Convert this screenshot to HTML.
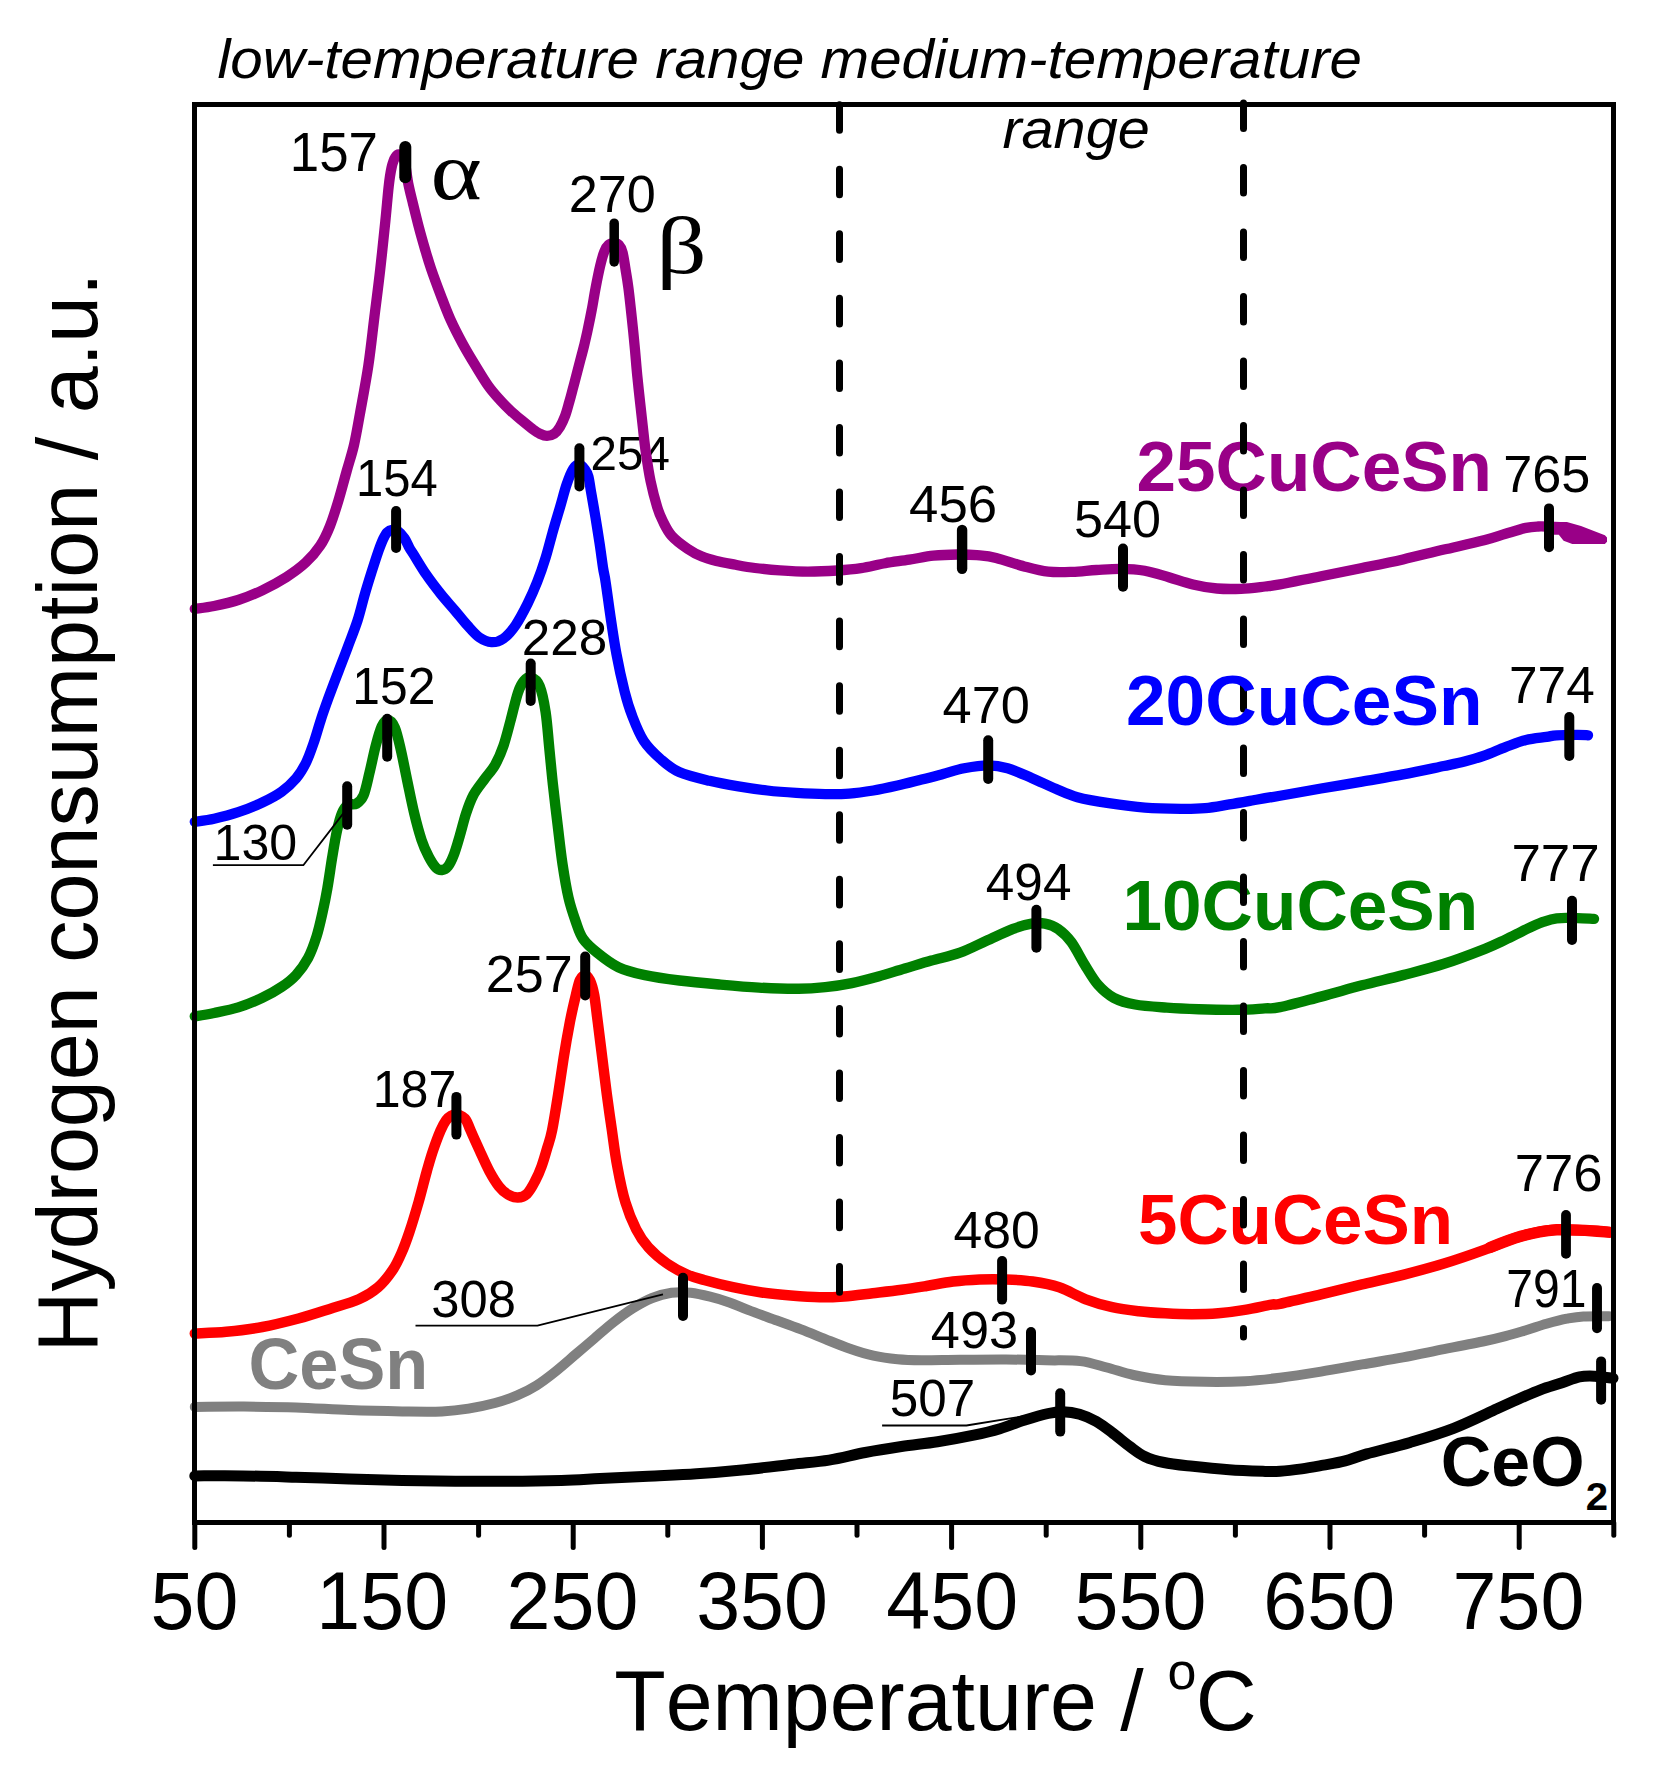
<!DOCTYPE html>
<html><head><meta charset="utf-8"><title>H2-TPR profiles</title>
<style>html,body{margin:0;padding:0;background:#fff}svg{display:block}</style></head>
<body>
<svg width="1659" height="1776" viewBox="0 0 1659 1776" font-family="'Liberation Sans', Arial, sans-serif" fill="#000" style="font-kerning:none">
<rect width="1659" height="1776" fill="#fff"/>
<text x="590.56" y="469.80" font-size="48.9" textLength="79.30" lengthAdjust="spacingAndGlyphs">254</text>
<g fill="none" stroke-linecap="round" stroke-linejoin="round">
<path d="M194.8 1475.9C202.9 1475.9 226.2 1475.7 243.1 1475.9C260.0 1476.1 278.4 1476.7 296.1 1477.2C313.8 1477.7 331.5 1478.5 349.2 1479.0C366.9 1479.5 384.5 1480.0 402.2 1480.4C419.9 1480.8 437.6 1481.1 455.3 1481.2C473.0 1481.3 490.6 1481.3 508.3 1481.2C526.0 1481.1 546.1 1480.8 561.4 1480.4C576.7 1480.0 585.5 1479.3 600.0 1478.6C614.5 1477.9 632.1 1477.0 648.2 1476.2C664.3 1475.4 680.3 1474.9 696.4 1473.8C712.5 1472.7 728.6 1471.3 744.7 1469.7C760.8 1468.1 778.8 1465.8 792.9 1464.2C807.0 1462.6 817.0 1462.0 829.1 1460.1C841.2 1458.1 853.2 1454.8 865.2 1452.5C877.2 1450.2 889.4 1448.3 901.4 1446.5C913.4 1444.7 925.5 1443.7 937.5 1441.8C949.5 1439.9 963.3 1437.4 973.7 1435.2C984.1 1433.0 991.6 1431.2 1000.0 1428.7C1008.4 1426.2 1016.1 1422.8 1024.1 1420.3C1032.1 1417.8 1041.8 1414.9 1048.2 1413.5C1054.6 1412.1 1057.5 1411.7 1062.7 1411.8C1067.9 1411.9 1074.0 1412.6 1079.6 1414.2C1085.2 1415.8 1090.8 1418.3 1096.4 1421.5C1102.0 1424.7 1107.7 1429.3 1113.3 1433.5C1118.9 1437.7 1125.0 1443.0 1130.2 1446.8C1135.4 1450.6 1139.1 1453.8 1144.7 1456.4C1150.3 1459.0 1156.0 1460.8 1164.0 1462.5C1172.0 1464.2 1182.1 1465.1 1192.9 1466.3C1203.8 1467.5 1217.0 1468.8 1229.1 1469.7C1241.1 1470.6 1256.7 1471.1 1265.2 1471.4C1273.7 1471.7 1273.9 1471.7 1280.0 1471.3C1286.1 1470.9 1294.5 1469.9 1301.7 1468.9C1308.9 1467.9 1316.2 1466.5 1323.4 1465.2C1330.6 1463.9 1337.9 1462.8 1345.1 1460.9C1352.3 1459.0 1355.9 1457.0 1366.8 1453.9C1377.7 1450.8 1395.7 1446.7 1410.2 1442.4C1424.7 1438.1 1439.1 1433.9 1453.6 1428.3C1468.1 1422.7 1486.2 1413.7 1497.0 1408.8C1507.8 1403.9 1511.5 1402.2 1518.7 1399.0C1525.9 1395.8 1533.2 1392.6 1540.4 1389.9C1547.6 1387.2 1555.6 1385.0 1562.1 1382.8C1568.6 1380.6 1574.1 1378.0 1579.5 1376.9C1584.9 1375.8 1589.1 1376.0 1594.7 1376.2C1600.3 1376.4 1610.0 1377.9 1613.0 1378.2" stroke="#000" stroke-width="11"/>
<path d="M194.8 1406.9C202.9 1406.9 226.2 1406.5 243.1 1406.6C260.0 1406.7 278.4 1406.8 296.1 1407.4C313.8 1408.0 331.5 1409.4 349.2 1410.1C366.9 1410.8 386.7 1411.2 402.2 1411.4C417.7 1411.6 430.9 1411.9 442.0 1411.4C453.1 1410.9 459.7 1410.0 468.5 1408.6C477.3 1407.2 486.9 1405.2 495.0 1403.0C503.1 1400.8 510.3 1398.3 517.2 1395.4C524.1 1392.5 530.1 1389.4 536.5 1385.4C542.9 1381.4 549.3 1376.4 555.7 1371.3C562.1 1366.2 568.6 1360.4 575.0 1354.9C581.4 1349.4 587.9 1344.0 594.3 1338.5C600.7 1333.0 607.2 1327.1 613.6 1322.1C620.0 1317.0 626.5 1312.2 632.9 1308.2C639.3 1304.2 645.8 1300.6 652.2 1298.0C658.6 1295.4 665.1 1293.7 671.5 1292.8C677.9 1291.9 684.4 1292.1 690.8 1292.8C697.2 1293.5 703.7 1295.1 710.1 1296.7C716.5 1298.3 723.0 1300.2 729.4 1302.4C735.8 1304.7 740.7 1307.2 748.6 1310.2C756.5 1313.2 768.2 1317.3 777.0 1320.5C785.8 1323.7 793.1 1326.3 801.1 1329.4C809.1 1332.5 817.2 1335.9 825.2 1339.1C833.2 1342.3 841.3 1345.7 849.3 1348.5C857.3 1351.3 865.3 1353.9 873.4 1355.7C881.5 1357.5 889.5 1358.5 897.6 1359.3C905.7 1360.1 911.3 1360.2 921.7 1360.3C932.1 1360.4 945.9 1359.9 960.0 1359.8C974.1 1359.7 991.8 1359.4 1006.1 1359.5C1020.4 1359.6 1033.5 1360.0 1045.9 1360.3C1058.3 1360.6 1070.2 1359.9 1080.4 1361.1C1090.6 1362.3 1098.1 1365.2 1106.9 1367.5C1115.7 1369.8 1123.7 1372.9 1133.4 1375.0C1143.1 1377.1 1153.4 1379.1 1165.3 1380.2C1177.2 1381.3 1191.8 1381.6 1205.0 1381.8C1218.2 1382.0 1232.3 1381.9 1244.8 1381.2C1257.3 1380.5 1267.3 1379.3 1280.0 1377.7C1292.7 1376.1 1307.3 1373.8 1321.0 1371.6C1334.7 1369.4 1348.3 1366.8 1362.0 1364.4C1375.7 1362.0 1389.3 1359.9 1403.0 1357.4C1416.7 1354.9 1430.3 1351.9 1444.0 1349.2C1457.7 1346.5 1474.8 1343.2 1485.0 1341.0C1495.2 1338.8 1498.7 1337.9 1505.5 1336.1C1512.3 1334.3 1519.2 1332.2 1526.0 1330.2C1532.8 1328.2 1539.7 1325.7 1546.5 1323.8C1553.3 1321.9 1560.8 1319.9 1567.0 1318.7C1573.2 1317.5 1576.4 1316.8 1583.4 1316.4C1590.4 1316.0 1604.7 1316.2 1609.0 1316.2" stroke="#808080" stroke-width="10"/>
<path d="M194.8 1333.5C200.0 1333.2 214.9 1332.9 226.2 1331.8C237.4 1330.7 250.2 1329.2 262.3 1327.0C274.4 1324.8 287.2 1321.5 298.5 1318.5C309.8 1315.5 319.8 1312.1 329.8 1308.9C339.9 1305.7 350.8 1302.9 358.8 1299.3C366.9 1295.7 372.5 1292.0 378.1 1287.2C383.7 1282.4 388.6 1276.0 392.5 1270.3C396.4 1264.6 398.7 1259.4 401.5 1253.0C404.3 1246.6 406.5 1240.6 409.4 1232.0C412.3 1223.4 415.8 1211.7 418.7 1201.6C421.6 1191.5 424.4 1179.7 426.8 1171.2C429.2 1162.8 430.6 1157.7 432.9 1150.9C435.2 1144.2 438.3 1135.8 440.5 1130.7C442.7 1125.6 444.1 1123.0 445.9 1120.5C447.6 1118.0 449.2 1116.8 451.0 1115.8C452.8 1114.8 454.7 1114.5 456.5 1114.6C458.3 1114.7 460.4 1115.5 462.0 1116.5C463.6 1117.5 464.9 1118.1 466.3 1120.5C467.8 1122.9 468.4 1125.6 470.7 1130.7C472.9 1135.8 476.7 1144.2 479.8 1150.9C482.9 1157.7 486.2 1165.3 489.4 1171.2C492.6 1177.1 495.9 1182.5 499.0 1186.4C502.1 1190.3 504.9 1192.7 508.0 1194.5C511.1 1196.3 514.6 1197.6 517.8 1197.5C521.0 1197.4 524.1 1196.5 527.0 1193.8C529.9 1191.1 532.6 1185.9 535.0 1181.3C537.4 1176.7 539.6 1171.8 541.6 1166.2C543.6 1160.7 545.5 1154.0 547.2 1148.0C549.0 1142.0 550.3 1139.2 552.1 1130.2C553.9 1121.2 556.3 1106.1 558.2 1094.1C560.1 1082.1 561.7 1070.1 563.6 1058.1C565.5 1046.1 567.9 1032.6 569.9 1022.1C571.9 1011.6 574.2 1002.0 575.9 995.0C577.6 988.0 578.5 983.2 580.0 980.0C581.5 976.8 583.3 975.5 584.9 975.5C586.5 975.5 588.2 976.8 589.8 980.0C591.3 983.2 592.9 988.0 594.2 995.0C595.5 1002.0 596.4 1011.6 597.8 1022.1C599.1 1032.6 600.8 1046.1 602.3 1058.1C603.8 1070.1 605.2 1082.1 606.8 1094.1C608.4 1106.1 610.1 1118.2 611.9 1130.2C613.6 1142.2 615.0 1154.2 617.3 1166.2C619.5 1178.2 622.2 1191.8 625.4 1202.3C628.5 1212.8 632.4 1221.8 636.2 1229.3C640.0 1236.8 643.2 1241.6 648.3 1247.3C653.4 1253.0 660.5 1259.0 667.0 1263.5C673.5 1268.0 680.8 1271.8 687.0 1274.5C693.2 1277.2 696.4 1277.9 704.0 1280.0C711.6 1282.1 723.3 1285.1 732.9 1287.2C742.5 1289.3 752.1 1291.1 761.8 1292.5C771.4 1293.9 781.1 1294.8 790.8 1295.6C800.4 1296.4 810.9 1297.2 819.7 1297.3C828.5 1297.4 835.0 1297.1 843.8 1296.4C852.6 1295.7 863.1 1294.3 872.7 1293.2C882.4 1292.1 892.7 1291.0 901.7 1289.8C910.7 1288.6 917.9 1287.4 926.5 1286.0C935.1 1284.6 944.2 1282.6 953.1 1281.5C962.0 1280.4 970.8 1279.8 979.6 1279.4C988.4 1279.1 997.3 1279.1 1006.1 1279.4C1014.9 1279.8 1023.7 1280.2 1032.6 1281.5C1041.4 1282.8 1050.3 1284.3 1059.2 1287.3C1068.1 1290.3 1076.9 1296.0 1085.7 1299.3C1094.5 1302.6 1103.4 1305.2 1112.2 1307.2C1121.0 1309.2 1129.9 1310.2 1138.7 1311.2C1147.5 1312.2 1156.5 1312.8 1165.3 1313.3C1174.1 1313.8 1183.0 1314.2 1191.8 1314.2C1200.6 1314.2 1209.5 1314.0 1218.3 1313.3C1227.1 1312.6 1235.9 1311.4 1244.8 1309.9C1253.7 1308.5 1265.5 1305.6 1271.4 1304.6C1277.3 1303.6 1271.7 1305.6 1280.0 1303.9C1288.3 1302.2 1307.3 1297.5 1321.0 1294.3C1334.7 1291.0 1348.3 1287.7 1362.0 1284.4C1375.7 1281.2 1389.3 1278.3 1403.0 1274.8C1416.7 1271.3 1430.3 1267.7 1444.0 1263.5C1457.7 1259.3 1474.8 1253.3 1485.0 1249.6C1495.2 1245.9 1498.7 1243.9 1505.5 1241.4C1512.3 1238.9 1519.2 1236.6 1526.0 1234.8C1532.8 1233.0 1541.4 1231.3 1546.5 1230.5C1551.6 1229.7 1551.6 1229.8 1556.7 1229.7C1561.8 1229.6 1570.4 1229.7 1577.2 1229.9C1584.0 1230.1 1592.4 1230.6 1597.7 1231.0C1603.0 1231.4 1607.1 1232.0 1609.0 1232.2" stroke="#ff0000" stroke-width="10.5"/>
<path d="M194.8 1016.3C198.0 1015.8 206.9 1014.5 214.1 1013.0C221.3 1011.5 230.2 1009.9 238.2 1007.4C246.2 1004.9 255.1 1001.2 262.3 997.8C269.5 994.4 276.0 990.7 281.6 986.9C287.2 983.1 291.7 979.7 296.1 974.9C300.5 970.1 304.7 964.4 308.1 958.0C311.5 951.6 314.2 943.9 316.6 936.3C319.0 928.7 320.8 920.2 322.6 912.2C324.4 904.2 325.8 897.4 327.4 888.1C329.0 878.9 330.7 866.4 332.3 856.7C333.9 847.1 335.5 837.4 337.1 830.2C338.7 823.0 340.1 817.5 341.9 813.3C343.7 809.1 345.5 806.5 347.9 804.9C350.3 803.3 353.8 805.3 356.4 803.7C359.0 802.1 361.4 800.4 363.6 795.2C365.8 790.0 367.6 780.5 369.6 772.3C371.6 764.1 373.7 753.4 375.7 745.8C377.7 738.2 379.7 730.8 381.7 726.5C383.7 722.2 385.5 719.8 387.7 720.0C389.9 720.2 392.7 722.6 394.9 727.7C397.1 732.8 399.0 742.0 401.0 750.6C403.0 759.2 404.8 769.2 407.0 779.6C409.2 790.0 411.8 803.3 414.2 813.3C416.6 823.3 419.1 832.6 421.5 839.8C423.9 847.0 426.3 852.1 428.7 856.7C431.1 861.3 433.7 865.4 435.9 867.6C438.1 869.8 440.0 870.2 442.0 870.0C444.0 869.8 446.0 869.0 448.0 866.4C450.0 863.8 452.0 859.5 454.0 854.3C456.0 849.1 458.0 841.8 460.0 835.0C462.0 828.2 463.9 819.9 466.1 813.3C468.3 806.7 470.3 800.8 473.3 795.2C476.3 789.6 480.6 784.6 484.2 779.6C487.8 774.6 491.8 770.7 495.0 765.1C498.2 759.5 500.8 753.5 503.4 746.0C506.0 738.5 508.3 728.9 510.7 720.0C513.1 711.1 515.7 699.3 517.9 692.8C520.1 686.3 521.7 683.5 523.9 681.0C526.1 678.5 528.6 676.7 531.2 677.5C533.8 678.3 537.2 680.2 539.6 686.0C542.0 691.8 544.0 701.6 545.6 712.0C547.2 722.4 548.1 736.1 549.3 748.2C550.5 760.3 551.5 771.5 552.9 784.4C554.3 797.3 556.1 812.1 557.7 825.4C559.3 838.7 560.7 852.0 562.5 864.0C564.3 876.0 566.3 888.1 568.5 897.7C570.7 907.3 573.4 915.0 575.8 921.8C578.2 928.6 579.5 933.6 583.0 938.7C586.5 943.8 591.2 947.9 597.1 952.6C603.0 957.4 610.4 963.4 618.4 967.2C626.4 971.0 634.7 973.0 644.9 975.2C655.1 977.4 667.0 979.0 679.4 980.5C691.8 982.0 706.0 983.3 719.2 984.5C732.5 985.7 745.6 986.9 758.9 987.6C772.1 988.3 787.6 988.8 798.7 988.7C809.8 988.6 816.4 988.0 825.3 987.1C834.1 986.2 843.0 984.9 851.8 983.1C860.6 981.3 869.5 978.9 878.3 976.5C887.1 974.1 895.9 971.1 904.8 968.5C913.6 965.9 922.2 963.2 931.4 960.6C940.6 958.0 950.8 956.0 960.0 952.7C969.2 949.4 977.6 944.8 986.5 940.8C995.4 936.8 1005.6 931.8 1013.1 928.9C1020.6 926.0 1026.3 924.5 1031.6 923.6C1036.9 922.7 1040.5 922.7 1044.9 923.6C1049.3 924.5 1053.7 925.8 1058.1 928.9C1062.5 932.0 1067.0 936.1 1071.4 942.1C1075.8 948.1 1080.3 957.6 1084.7 964.7C1089.1 971.8 1093.1 979.1 1097.9 984.6C1102.8 990.1 1107.6 994.5 1113.8 997.8C1120.0 1001.1 1126.2 1002.9 1135.1 1004.5C1143.9 1006.1 1156.3 1006.8 1166.9 1007.6C1177.5 1008.4 1186.8 1008.8 1198.7 1009.2C1210.6 1009.6 1227.5 1009.9 1238.5 1009.8C1249.5 1009.7 1258.1 1008.8 1265.0 1008.4C1271.9 1008.0 1270.7 1009.2 1280.0 1007.2C1289.3 1005.2 1307.3 1000.2 1321.0 996.6C1334.7 993.0 1348.3 988.9 1362.0 985.3C1375.7 981.7 1389.3 978.7 1403.0 975.1C1416.7 971.5 1430.3 968.2 1444.0 963.8C1457.7 959.4 1474.8 952.8 1485.0 948.8C1495.2 944.8 1498.7 942.8 1505.5 939.6C1512.3 936.4 1519.8 932.3 1526.0 929.4C1532.2 926.5 1537.3 924.1 1542.4 922.2C1547.5 920.4 1550.9 919.0 1556.7 918.3C1562.5 917.6 1571.0 918.0 1577.2 918.1C1583.4 918.2 1591.2 918.8 1594.0 918.9" stroke="#008000" stroke-width="10.4"/>
<path d="M194.8 821.8C198.0 821.3 206.9 820.3 214.1 818.7C221.3 817.1 230.2 814.9 238.2 812.2C246.2 809.5 255.1 805.9 262.3 802.5C269.5 799.1 276.0 795.7 281.6 791.7C287.2 787.7 292.0 783.2 296.1 778.4C300.2 773.6 303.1 768.5 306.0 762.7C308.9 756.9 311.0 750.6 313.5 743.4C316.0 736.2 318.5 726.9 321.0 719.3C323.5 711.7 325.7 705.6 328.6 697.6C331.5 689.6 335.4 679.5 338.6 671.1C341.8 662.7 344.7 655.4 347.8 647.0C350.9 638.6 354.8 629.0 357.5 620.6C360.2 612.2 361.9 604.5 364.2 596.4C366.5 588.3 369.1 579.9 371.5 572.3C373.9 564.7 376.7 556.1 378.6 550.6C380.6 545.1 381.8 542.0 383.2 539.0C384.6 536.0 385.7 533.8 387.2 532.3C388.7 530.8 390.3 530.0 392.0 529.8C393.7 529.5 395.4 529.3 397.5 530.8C399.6 532.2 402.6 535.6 404.6 538.5C406.6 541.4 407.9 545.2 409.5 548.0C411.1 550.8 411.4 550.9 414.2 555.4C417.0 559.9 421.9 568.3 426.3 574.7C430.7 581.1 436.0 588.0 440.8 594.0C445.6 600.0 450.8 605.6 455.2 610.8C459.6 616.0 463.3 620.9 467.3 625.3C471.3 629.7 475.3 634.6 479.3 637.4C483.3 640.2 487.4 642.0 491.4 642.2C495.4 642.4 499.4 641.4 503.4 638.6C507.4 635.8 511.5 631.1 515.5 625.3C519.5 619.5 524.0 610.8 527.6 603.6C531.2 596.4 534.2 589.5 537.2 581.9C540.2 574.3 543.0 566.2 545.6 557.8C548.2 549.4 550.5 539.8 552.9 531.3C555.3 522.8 557.8 514.8 560.1 507.0C562.4 499.2 564.4 490.9 566.6 484.5C568.8 478.1 571.2 472.1 573.3 468.8C575.4 465.5 577.3 464.4 579.3 464.5C581.2 464.6 583.5 467.5 585.0 469.5C586.5 471.5 587.4 472.7 588.4 476.5C589.4 480.3 589.9 485.4 591.1 492.2C592.3 499.0 594.1 509.1 595.5 517.5C596.9 525.9 598.2 534.4 599.5 542.8C600.8 551.2 602.1 561.6 603.1 568.1C604.1 574.6 604.4 573.7 605.6 581.9C606.9 590.1 608.8 605.1 610.6 617.2C612.4 629.3 614.2 641.9 616.5 654.3C618.8 666.7 622.0 681.2 624.6 691.5C627.2 701.8 629.1 708.0 632.3 716.2C635.5 724.5 639.1 733.9 643.8 741.0C648.5 748.1 654.6 753.8 660.5 759.0C666.4 764.2 670.9 768.4 679.1 772.0C687.3 775.6 699.6 778.4 709.5 780.8C719.4 783.2 728.8 784.8 738.4 786.4C748.0 788.0 757.8 789.4 767.4 790.5C777.0 791.6 786.7 792.3 796.3 792.9C805.9 793.5 816.4 794.0 825.2 794.1C834.0 794.2 841.3 794.2 849.3 793.6C857.3 793.0 865.4 791.8 873.4 790.5C881.4 789.2 889.5 787.4 897.5 785.6C905.5 783.8 914.1 781.5 921.7 779.6C929.3 777.7 935.9 775.9 943.0 774.0C950.1 772.1 956.6 769.7 964.1 768.3C971.6 766.9 981.0 765.4 988.2 765.4C995.4 765.4 1000.3 766.2 1007.5 768.3C1014.7 770.4 1023.6 774.5 1031.6 777.9C1039.6 781.3 1048.1 785.6 1055.7 788.8C1063.3 792.0 1068.6 794.8 1077.4 797.2C1086.2 799.6 1097.5 801.5 1108.8 803.2C1120.0 804.9 1132.9 806.7 1144.9 807.6C1157.0 808.5 1171.0 808.7 1181.1 808.8C1191.1 808.9 1197.2 808.8 1205.2 808.1C1213.2 807.4 1221.3 805.7 1229.3 804.4C1237.3 803.1 1245.0 801.7 1253.4 800.2C1261.9 798.8 1268.7 797.7 1280.0 795.7C1291.3 793.8 1307.3 790.9 1321.0 788.5C1334.7 786.1 1348.3 784.0 1362.0 781.6C1375.7 779.2 1389.3 777.0 1403.0 774.4C1416.7 771.8 1433.8 768.1 1444.0 766.0C1454.2 763.9 1457.7 763.3 1464.5 761.5C1471.3 759.7 1478.2 757.7 1485.0 755.3C1491.8 752.9 1498.7 749.6 1505.5 747.1C1512.3 744.6 1519.2 741.7 1526.0 740.0C1532.8 738.3 1541.4 737.7 1546.5 736.9C1551.6 736.1 1551.6 735.6 1556.7 735.3C1561.8 734.9 1572.0 734.8 1577.2 734.8C1582.4 734.8 1586.2 735.2 1588.0 735.3" stroke="#0000ff" stroke-width="10.3"/>
<path d="M194.8 608.9C198.0 608.4 206.9 607.5 214.1 606.0C221.3 604.5 230.2 602.6 238.2 600.0C246.2 597.4 254.3 594.1 262.3 590.3C270.3 586.5 279.2 581.7 286.4 577.1C293.6 572.5 300.1 567.8 305.7 562.6C311.3 557.4 316.2 551.7 320.2 545.7C324.2 539.7 326.8 534.0 329.8 526.5C332.8 519.0 335.5 510.2 338.3 501.0C341.1 491.8 344.1 480.3 346.7 471.0C349.3 461.7 351.8 454.6 354.0 445.0C356.2 435.4 357.6 426.7 360.0 413.4C362.4 400.1 366.0 381.3 368.4 365.2C370.8 349.1 372.4 333.1 374.4 317.0C376.4 300.9 378.5 284.9 380.3 268.8C382.1 252.7 384.0 234.3 385.4 220.6C386.8 206.8 387.7 195.2 388.7 186.3C389.7 177.5 390.5 172.4 391.6 167.5C392.7 162.6 394.0 159.1 395.4 157.0C396.8 154.9 398.5 154.1 400.0 154.8C401.5 155.5 403.1 156.3 404.5 161.0C405.9 165.7 406.8 176.1 408.2 183.2C409.6 190.3 411.2 196.3 413.0 203.7C414.8 211.1 417.0 220.2 419.0 227.8C421.0 235.4 423.1 242.7 425.1 249.5C427.1 256.3 428.5 261.2 431.1 268.8C433.7 276.4 437.6 286.9 440.8 295.3C444.0 303.7 446.8 311.4 450.4 319.4C454.0 327.4 458.5 336.1 462.5 343.5C466.5 350.9 470.2 357.0 474.5 364.0C478.8 371.0 483.8 379.5 488.0 385.5C492.2 391.5 496.2 395.8 500.0 400.0C503.8 404.2 507.2 407.5 510.8 410.9C514.4 414.3 518.1 417.3 521.7 420.3C525.3 423.3 529.5 426.8 532.5 429.0C535.5 431.2 537.4 432.6 539.8 433.7C542.2 434.8 544.6 435.8 547.0 435.8C549.4 435.8 552.0 435.2 554.2 433.7C556.4 432.2 558.2 429.8 560.0 426.8C561.8 423.8 563.5 420.1 565.1 415.9C566.7 411.7 568.0 406.3 569.4 401.5C570.8 396.7 572.0 391.8 573.3 387.0C574.6 382.2 575.9 377.2 577.1 372.5C578.3 367.8 579.5 363.4 580.6 359.0C581.8 354.6 582.9 350.6 584.0 346.0C585.1 341.4 586.1 337.4 587.4 331.3C588.7 325.2 590.4 316.8 591.8 309.6C593.2 302.4 594.2 295.1 595.6 287.9C597.0 280.7 598.7 272.2 600.1 266.2C601.5 260.2 602.9 255.2 604.3 251.7C605.7 248.2 606.9 246.4 608.5 245.0C610.1 243.6 612.1 243.2 613.9 243.2C615.6 243.2 617.5 243.4 619.0 245.0C620.5 246.6 621.4 247.8 622.6 252.5C623.8 257.2 625.2 267.5 626.2 273.4C627.2 279.3 627.6 281.9 628.4 287.9C629.2 293.9 630.1 302.4 630.9 309.6C631.7 316.8 632.5 324.6 633.2 331.3C633.9 338.0 634.3 342.6 635.0 350.0C635.7 357.4 636.4 367.1 637.3 376.0C638.2 384.9 639.2 394.4 640.2 403.2C641.2 411.9 642.1 420.3 643.0 428.5C643.9 436.7 644.5 443.5 645.8 452.3C647.1 461.1 648.7 472.2 650.6 481.3C652.5 490.4 655.1 500.1 657.1 506.8C659.1 513.5 660.5 516.5 662.9 521.3C665.3 526.1 667.5 531.1 671.6 535.7C675.7 540.3 682.4 545.2 687.5 548.7C692.6 552.2 697.2 554.6 702.0 556.6C706.8 558.6 710.8 559.6 716.4 561.0C722.0 562.4 729.3 563.6 735.7 564.8C742.1 566.0 747.6 567.1 755.0 568.0C762.4 568.9 771.2 569.8 780.0 570.4C788.8 571.0 798.5 571.6 808.0 571.6C817.5 571.6 828.1 571.1 837.0 570.5C845.9 569.9 853.1 569.3 861.1 568.1C869.1 566.9 877.2 564.6 885.2 563.2C893.2 561.8 901.3 560.9 909.3 559.6C917.3 558.4 925.4 556.6 933.4 555.7C941.4 554.9 950.3 554.6 957.5 554.5C964.7 554.4 970.4 554.6 976.8 555.2C983.2 555.8 988.2 556.0 996.1 557.9C1004.0 559.8 1015.4 564.1 1024.1 566.4C1032.8 568.7 1040.2 570.8 1048.2 571.7C1056.2 572.6 1064.3 572.2 1072.3 571.9C1080.3 571.6 1088.4 570.5 1096.4 570.0C1104.5 569.5 1112.5 568.7 1120.6 568.8C1128.6 568.9 1136.7 569.3 1144.7 570.7C1152.7 572.1 1160.8 574.9 1168.8 577.2C1176.8 579.5 1184.9 582.5 1192.9 584.4C1200.9 586.3 1209.0 587.8 1217.0 588.5C1225.0 589.2 1233.1 589.1 1241.1 588.8C1249.1 588.5 1258.7 587.2 1265.2 586.5C1271.7 585.8 1270.7 586.1 1280.0 584.4C1289.3 582.7 1307.3 578.9 1321.0 576.2C1334.7 573.5 1348.3 570.8 1362.0 568.0C1375.7 565.2 1389.3 562.5 1403.0 559.4C1416.7 556.3 1430.3 552.8 1444.0 549.6C1457.7 546.4 1474.8 542.6 1485.0 540.0C1495.2 537.4 1498.7 535.8 1505.5 533.8C1512.3 531.8 1520.5 529.1 1526.0 527.9C1531.5 526.7 1533.9 526.7 1538.2 526.5C1542.5 526.3 1547.9 526.6 1552.0 526.8C1556.1 527.0 1559.7 527.0 1563.0 527.6C1566.3 528.2 1570.5 530.0 1572.0 530.5" stroke="#990087" stroke-width="10.3"/>
<path d="M1553 522H1566.9L1581 526L1604.9 535.3L1607 537.4V541.8L1604.9 544H1572.3L1563.6 540.7L1558.8 534.7H1553Z" fill="#990087" stroke="none"/>
<path d="M1490 1247.5C1510 1239.5 1530 1231.5 1556.7 1229.7C1577 1229.6 1598 1231 1609 1232.2" stroke="#ff0000" stroke-width="11.4"/>
</g>
<g fill="none" stroke="#000" stroke-width="1.8" stroke-linejoin="round">
<path d="M212.9 865.2H303.3L344.3 812.1"/>
<path d="M415.5 1325.7H537.4L663 1294.4"/>
<path d="M882.1 1425.5H966.4L1040 1413.5"/>
</g>
<g>
<text x="289.83" y="170.60" font-size="54.6" textLength="88.16" lengthAdjust="spacingAndGlyphs">157</text>
<text x="568.79" y="211.50" font-size="52.0" textLength="87.14" lengthAdjust="spacingAndGlyphs">270</text>
<text x="355.95" y="496.40" font-size="51.5" textLength="81.77" lengthAdjust="spacingAndGlyphs">154</text>
<text x="909.10" y="521.50" font-size="52.5" textLength="88.01" lengthAdjust="spacingAndGlyphs">456</text>
<text x="1073.99" y="537.00" font-size="52.0" textLength="87.03" lengthAdjust="spacingAndGlyphs">540</text>
<text x="1503.29" y="492.00" font-size="52.0" textLength="87.14" lengthAdjust="spacingAndGlyphs">765</text>
<text x="352.33" y="703.70" font-size="52.0" textLength="83.01" lengthAdjust="spacingAndGlyphs">152</text>
<text x="521.82" y="654.80" font-size="49.4" textLength="85.50" lengthAdjust="spacingAndGlyphs">228</text>
<text x="213.52" y="860.30" font-size="50.5" textLength="83.66" lengthAdjust="spacingAndGlyphs">130</text>
<text x="942.59" y="723.20" font-size="52.0" textLength="87.34" lengthAdjust="spacingAndGlyphs">470</text>
<text x="1509.02" y="702.80" font-size="52.0" textLength="85.68" lengthAdjust="spacingAndGlyphs">774</text>
<text x="985.81" y="900.40" font-size="52.0" textLength="85.70" lengthAdjust="spacingAndGlyphs">494</text>
<text x="1511.38" y="880.90" font-size="52.5" textLength="88.33" lengthAdjust="spacingAndGlyphs">777</text>
<text x="485.78" y="992.20" font-size="51.5" textLength="86.88" lengthAdjust="spacingAndGlyphs">257</text>
<text x="372.75" y="1107.10" font-size="51.0" textLength="83.57" lengthAdjust="spacingAndGlyphs">187</text>
<text x="431.32" y="1317.30" font-size="51.5" textLength="84.60" lengthAdjust="spacingAndGlyphs">308</text>
<text x="953.42" y="1248.30" font-size="52.5" textLength="86.26" lengthAdjust="spacingAndGlyphs">480</text>
<text x="930.79" y="1347.80" font-size="52.0" textLength="87.34" lengthAdjust="spacingAndGlyphs">493</text>
<text x="889.71" y="1416.40" font-size="51.5" textLength="85.42" lengthAdjust="spacingAndGlyphs">507</text>
<text x="1514.80" y="1191.00" font-size="52.5" textLength="87.81" lengthAdjust="spacingAndGlyphs">776</text>
<text x="1506.18" y="1306.60" font-size="53.0" textLength="80.26" lengthAdjust="spacingAndGlyphs">791</text>
<text x="1136.55" y="490.60" font-size="69.5" textLength="355.48" lengthAdjust="spacingAndGlyphs" font-weight="bold" fill="#990087">25CuCeSn</text>
<text x="1122.54" y="929.80" font-size="70" textLength="355.58" lengthAdjust="spacingAndGlyphs" font-weight="bold" fill="#008000">10CuCeSn</text>
<text x="1137.97" y="1244.40" font-size="70" textLength="315.13" lengthAdjust="spacingAndGlyphs" font-weight="bold" fill="#ff0000">5CuCeSn</text>
<text x="248.53" y="1388.90" font-size="71.5" textLength="179.78" lengthAdjust="spacingAndGlyphs" font-weight="bold" fill="#808080">CeSn</text>
<text x="1440.83" y="1485.70" font-size="71" textLength="143.76" lengthAdjust="spacingAndGlyphs" font-weight="bold">CeO</text>
<text x="1585.67" y="1510.10" font-size="39" textLength="22.34" lengthAdjust="spacingAndGlyphs" font-weight="bold">2</text>
<text x="217.40" y="77.90" font-size="54.8" textLength="1144.67" lengthAdjust="spacingAndGlyphs" font-style="italic">low-temperature range medium-temperature</text>
<text x="1002.40" y="148.40" font-size="54.8" textLength="147.35" lengthAdjust="spacingAndGlyphs" font-style="italic">range</text>
<text x="614.21" y="1730.20" font-size="85.5" textLength="529.54" lengthAdjust="spacingAndGlyphs">Temperature /</text>
<text x="1167.60" y="1689.40" font-size="52" textLength="28.92" lengthAdjust="spacingAndGlyphs">o</text>
<text x="1195.75" y="1730.20" font-size="85.5" textLength="60.96" lengthAdjust="spacingAndGlyphs">C</text>
</g>
<text x="430.56" y="198.68" font-family="'Liberation Serif', serif" font-size="81.67" textLength="51.30" lengthAdjust="spacingAndGlyphs">α</text>
<text x="656.24" y="273.00" font-family="'Liberation Serif', serif" font-size="81.43" textLength="50.51" lengthAdjust="spacingAndGlyphs">β</text>
<g stroke="#000" stroke-width="7" stroke-linecap="round" stroke-dasharray="25.6 38.9">
<path d="M839.5 104.7V1294.6" stroke-dasharray="25.6 38.95"/>
<path d="M1243.5 103V1337"/>
</g>
<text x="1125.98" y="724.70" font-size="70.5" textLength="356.53" lengthAdjust="spacingAndGlyphs" font-weight="bold" fill="#0000ff">20CuCeSn</text>
<g stroke="#000" stroke-linecap="round">
<path d="M405.3 147.0V177.2" stroke-width="12"/>
<path d="M614.2 223.2V261.9" stroke-width="9.5"/>
<path d="M396.1 511.0V548.0" stroke-width="10"/>
<path d="M579.4 448.3V486.5" stroke-width="10"/>
<path d="M962.1 530.0V568.8" stroke-width="10.4"/>
<path d="M1123 548.5V586.7" stroke-width="10"/>
<path d="M1549 508.4V547.2" stroke-width="10"/>
<path d="M387.2 718.7V756.8" stroke-width="10"/>
<path d="M530.7 663.6V701.0" stroke-width="10"/>
<path d="M347.2 786.2V824.8" stroke-width="10"/>
<path d="M988.2 740.2V779.0" stroke-width="10"/>
<path d="M1569.3 717.0V756.0" stroke-width="10"/>
<path d="M1036.4 909.8V947.7" stroke-width="10"/>
<path d="M1572 900.7V939.9" stroke-width="10"/>
<path d="M585.2 956.5V995.4" stroke-width="10"/>
<path d="M456.4 1096.9V1134.6" stroke-width="10"/>
<path d="M683 1277.7V1316.0" stroke-width="10"/>
<path d="M1002.1 1261.0V1299.6" stroke-width="10"/>
<path d="M1031 1332.1V1370.5" stroke-width="10"/>
<path d="M1060.2 1393.3V1431.6" stroke-width="10"/>
<path d="M1566 1214.9V1253.9" stroke-width="9.8"/>
<path d="M1597 1288.0V1328.3" stroke-width="9.9"/>
<path d="M1601.1 1361.4V1399.7" stroke-width="10"/>
</g>
<rect x="194.5" y="104.5" width="1419" height="1418" fill="none" stroke="#000" stroke-width="5"/>
<g stroke="#000" stroke-width="5" stroke-linecap="round">
<path d="M194.8 1523V1547.5"/>
<path d="M289.4 1523V1535.2"/>
<path d="M384.0 1523V1547.5"/>
<path d="M478.6 1523V1535.2"/>
<path d="M573.2 1523V1547.5"/>
<path d="M667.8 1523V1535.2"/>
<path d="M762.4 1523V1547.5"/>
<path d="M857.0 1523V1535.2"/>
<path d="M951.6 1523V1547.5"/>
<path d="M1046.2 1523V1535.2"/>
<path d="M1140.8 1523V1547.5"/>
<path d="M1235.4 1523V1535.2"/>
<path d="M1330.0 1523V1547.5"/>
<path d="M1424.6 1523V1535.2"/>
<path d="M1519.2 1523V1547.5"/>
<path d="M1613.8 1523V1535.2"/>
</g>
<text x="150.57" y="1629.0" font-size="81.6" textLength="87.87" lengthAdjust="spacingAndGlyphs">50</text>
<text x="316.35" y="1629.0" font-size="81.6" textLength="131.80" lengthAdjust="spacingAndGlyphs">150</text>
<text x="506.52" y="1629.0" font-size="81.6" textLength="131.80" lengthAdjust="spacingAndGlyphs">250</text>
<text x="696.20" y="1629.0" font-size="81.6" textLength="131.80" lengthAdjust="spacingAndGlyphs">350</text>
<text x="886.37" y="1629.0" font-size="81.6" textLength="131.80" lengthAdjust="spacingAndGlyphs">450</text>
<text x="1074.60" y="1629.0" font-size="81.6" textLength="131.80" lengthAdjust="spacingAndGlyphs">550</text>
<text x="1263.32" y="1629.0" font-size="81.6" textLength="131.80" lengthAdjust="spacingAndGlyphs">650</text>
<text x="1452.52" y="1629.0" font-size="81.6" textLength="131.80" lengthAdjust="spacingAndGlyphs">750</text>
<text transform="translate(97.2 1346.5) rotate(-90)" x="-5.98" y="0" font-size="84.8" textLength="1080.01" lengthAdjust="spacingAndGlyphs">Hydrogen consumption / a.u.</text>
</svg>
</body></html>
